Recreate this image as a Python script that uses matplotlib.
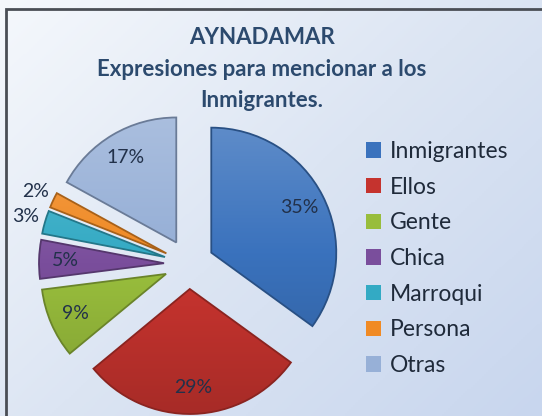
import numpy as np
import matplotlib.pyplot as plt
from matplotlib.colors import LinearSegmentedColormap, to_rgb
from matplotlib.patches import Rectangle, Wedge

plt.rcParams['font.family'] = ['Lato', 'DejaVu Sans']

# datos
categorias = ["Inmigrantes", "Ellos", "Gente", "Chica", "Marroqui", "Persona", "Otras"]
porcentajes = [35, 29, 9, 5, 3, 2, 17]
colores = ["#3A72BD", "#C5332E", "#98BD3C", "#7A4E9C", "#33AAC4", "#F08A24", "#97B0D7"]
titulo = "AYNADAMAR\nExpresiones para mencionar a los\nInmigrantes."

W, H = 542, 416
fig = plt.figure(figsize=(W / 100, H / 100), dpi=100)
ax = fig.add_axes([0, 0, 1, 1])

# tarta
wedges, textos, autotextos = ax.pie(
    porcentajes, colors=colores, startangle=90, counterclock=False,
    center=(189, H - 264), radius=125, explode=[25] * len(porcentajes),
    autopct=lambda p: f"{p:.0f}%", pctdistance=0.79,
    wedgeprops=dict(linewidth=0, zorder=1),
    textprops=dict(fontsize=14, color="#22314A"))

# pie() cambia los límites: se fijan en píxeles después
ax.set_xlim(0, W)
ax.set_ylim(0, H)
ax.set_aspect('equal')
ax.axis('off')

# fondo degradado
yy, xx = np.mgrid[0:1:200j, 0:1:260j]
fondo = LinearSegmentedColormap.from_list("fondo", ["#F5F8FC", "#DCE5F3", "#C8D6EE"])
ax.imshow(0.55 * xx + 0.45 * yy, cmap=fondo, extent=(0, W, 0, H),
          origin='upper', aspect='auto', zorder=0)
ax.add_patch(Rectangle((5.5, -10), W + 20, H - 8.5 + 10, fill=False,
                       edgecolor="#4A4E55", linewidth=2, zorder=10))

for w in wedges:
    c = np.array(to_rgb(w.get_facecolor()))
    claro = c + (1 - c) * 0.18
    oscuro = c * 0.85
    cm = LinearSegmentedColormap.from_list("w", [claro, c, oscuro])
    cx, cy = w.center
    x0, x1 = cx - w.r, cx + w.r
    y0, y1 = cy - w.r, cy + w.r
    g = np.linspace(0, 1, 100)[:, None] * np.ones((1, 10))
    im = ax.imshow(g, cmap=cm, extent=(x0, x1, y0, y1), origin='upper',
                   aspect='auto', zorder=2)
    im.set_clip_path(w)
    ax.add_patch(Wedge(w.center, w.r, w.theta1, w.theta2, fill=False,
                       edgecolor=c * 0.7, linewidth=1.3, zorder=3))

# etiquetas pequeñas fuera de la tarta
for w, t, v in zip(wedges, autotextos, porcentajes):
    t.set_zorder(5)
    if v <= 3:
        a = np.deg2rad((w.theta1 + w.theta2) / 2)
        d = 1.16 * w.r
        t.set_position((w.center[0] + d * np.cos(a), w.center[1] + d * np.sin(a)))

fig.text(262 / W, 1 - 27 / H, titulo, ha='center', va='top', fontsize=16,
         fontweight='bold', color="#2C4A6E", linespacing=1.62)

ax.legend(wedges, categorias, loc='upper left',
          bbox_to_anchor=(366 / W, 1 - 141 / H), bbox_transform=fig.transFigure,
          frameon=False, fontsize=16.5, handlelength=0.65, handleheight=0.65,
          handletextpad=0.4, labelspacing=0.64, borderpad=0, borderaxespad=0,
          labelcolor="#1F2A3A")

fig.savefig("out.png", dpi=100)
